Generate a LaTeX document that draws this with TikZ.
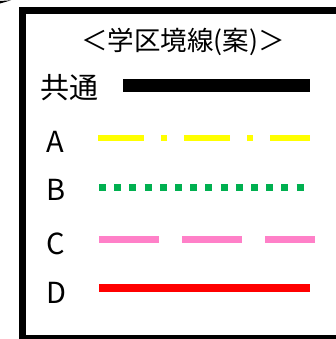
\documentclass[tikz,border=0pt]{standalone}
\usepackage{fontspec}
\setmainfont{Noto Sans CJK JP}
\definecolor{lgreen}{RGB}{0,176,80}
\definecolor{lpink}{RGB}{255,128,200}
\definecolor{lyellow}{RGB}{255,255,0}
\definecolor{lred}{RGB}{255,0,0}
\begin{document}
\begin{tikzpicture}[x=1pt,y=-1pt,
  lbl/.style={font=\fontsize{29}{31}\selectfont, anchor=west, inner sep=0pt},
  key/.style={line cap=butt}]
\useasboundingbox (0,0) rectangle (336,339);
\fill[white] (0,0) rectangle (336,339);
% frame
\draw[line width=7pt] (350,10.5) -- (22.5,10.5) -- (22.5,338.5) -- (350,338.5);
\fill (0,1) -- (11,0.3) -- (0,3.5) -- cycle;
% title
\node[font=\fontsize{26.5}{28}\selectfont, inner sep=0pt] (title) at (183,42) {＜学区境線(案)＞};
% labels
\node[lbl] (common) at (40,88) {共通};
\node[lbl] (la) at (46,142) {A};
\node[lbl] (lb) at (46,190) {B};
\node[lbl] (lc) at (46,244) {C};
\node[lbl] (ld) at (46,293) {D};
% line ends
\coordinate (c0) at (123,85.5); \coordinate (c1) at (310,85.5);
\coordinate (a0) at (98,138); \coordinate (a1) at (310,138);
\coordinate (b0) at (99,187); \coordinate (b1) at (305,187);
\coordinate (cc0) at (99,239.5); \coordinate (cc1) at (315,239.5);
\coordinate (d0) at (99,288); \coordinate (d1) at (310,288);
\draw[key, line width=13pt] (c0) -- (c1);
\draw[key, lyellow, line width=6pt, dash pattern=on 46pt off 17pt on 6pt off 17pt] (a0) -- (a1);
\draw[key, lgreen, line width=7pt, dash pattern=on 7pt off 8.2pt] (b0) -- (b1);
\draw[key, lpink, line width=7pt, dash pattern=on 60pt off 23pt] (cc0) -- (cc1);
\draw[key, lred, line width=7.5pt] (d0) -- (d1);
\end{tikzpicture}
\end{document}
